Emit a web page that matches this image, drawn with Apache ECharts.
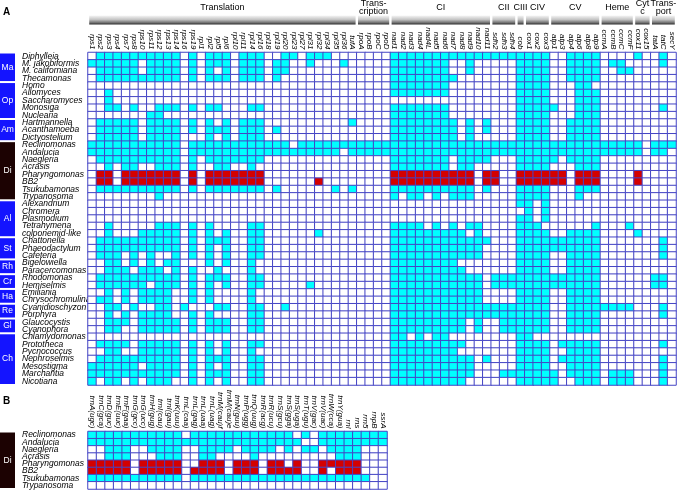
<!DOCTYPE html>
<html><head><meta charset="utf-8">
<script src="https://cdn.jsdelivr.net/npm/echarts@6/dist/echarts.min.js"></script>
<style>html,body{margin:0;padding:0;background:#fff}#c{width:677px;height:492px}</style>
</head><body><div id="c"></div><script>
// ---------- Panel A ----------
const genesA = ['rps1','rps2','rps3','rps4','rps7','rps8','rps10','rps11','rps12','rps13','rps14','rps16','rps19',
 'rpl1','rpl2','rpl5','rpl6','rpl10','rpl11','rpl14','rpl16','rpl18','rpl19','rpl20','rpl23','rpl27','rpl31','rpl32','rpl34','rpl35','rpl36','tufA',
 'rpoA','rpoB','rpoC','rpoD',
 'nad1','nad2','nad3','nad4','nad4L','nad5','nad6','nad7','nad8','nad9','nad10','nad11',
 'sdh2','sdh3','sdh4','cob','cox1','cox2','cox3','atp1','atp3','atp4','atp6','atp8','atp9',
 'ccmA','ccmB','ccmC','ccmF','cox11','cox15','tatA','tatC','secY'];
const headerLabels = ['Translation','Trans-\ncription','CI','CII','CIII','CIV','CV','Heme','Cyt\nc','Trans-\nport'];
const headerSpans = [32,4,12,3,1,3,6,4,2,3];
const speciesA = ['Diphylleia','M. jakobiformis','M. californiana','Thecamonas','Homo','Allomyces','Saccharomyces','Monosiga','Nuclearia',
 'Hartmannella','Acanthamoeba','Dictyostelium','Reclinomonas','Andalucia','Naegleria','Acrasis','Pharyngomonas','BB2','Tsukubamonas','Trypanosoma',
 'Alexandrium','Chromera','Plasmodium','Tetrahymena','colponemid-like','Chattonella','Phaeodactylum','Cafeteria','Bigelowiella','Paracercomonas',
 'Rhodomonas','Hemiselmis','Emiliania','Chrysochromulina','Cyanidioschyzon','Porphyra','Glaucocystis','Cyanophora','Chlamydomonas','Prototheca',
 'Pycnococcus','Nephroselmis','Mesostigma','Marchantia','Nicotiana'];
const groupLabelsA = ['Ma','Op','Am','Di','Al','St','Rh','Cr','Ha','Re','Gl','Ch'];
const groupSizesA = [4,5,3,8,5,3,2,2,2,2,2,7];
// gene column indices shown cyan (present) and red (present, highlighted lineage)
const cyanA = [
 '1-10,12,14-16,18-20,23-24,26-28,36-54,57-60,65,68',
 '0-5,7-10,12,14-16,18-20,22-23,26,30,36-42,45,51-54,57-60,62-63,68',
 '1-5,7-10,12,14,16,18-20,22-23,36-42,45,51-54,57-60,63-64',
 '1-10,12,14-16,18-20,22,36-43,51-54,57-60',
 '36-42,51-54,58-59',
 '2,36-42,51-54,58-60',
 '2,51-54,58-60',
 '2-3,5,8-10,12,14-15,19-20,36-42,51-55,58-60,68',
 '7-8,36-42,51-54,58-60',
 '1-5,7-10,12,14,16,18-20,31,36-43,45,47,51-54,57-60',
 '1-5,7-10,12,14-16,18-20,22,36-43,45,47,51-54,57-60',
 '1-5,7-10,14,16,18-20,36-43,45,51-54,57-60',
 '0-10,12-23,25-65,67-69',
 '0-10,12-29,31-65,67-68',
 '1-10,12,14-20,36-42,44-47,51-55,57-60',
 '2,4-5,8-10,12,15-16,19,36-42,44-45,51-54,58-60',
 '',
 '',
 '1-10,12,14-20,22,29,31,36-45,47,51-54,58-60',
 '8,36,38-39,41,43-45,51-54,58',
 '51-52,54',
 '52,54',
 '51-52,54',
 '2,8-10,12,14,19-20,36-39,41,43,45-46,51-53,60,64',
 '2,6-10,12,14,16,19-20,27,36-44,46,51-54,57-60,65',
 '1-10,12,14-16,19-20,36-47,51-60,68',
 '1-10,12,14,16,19-20,36-46,51-60,68',
 '1-3,5,7,10,12,14,16,19-20,36-46,51-54,57-60,68',
 '2-3,5,7,9-10,14,16,19,36-43,51-54,57-60',
 '2-4,6-8,10,12,15,19,36-44,51-54,57-60',
 '1-10,12,14-16,19-20,36-46,48-60,67-68',
 '1-6,8-10,12,14,16,19-20,26,36-46,48-60,67-68',
 '2,4,6-9,12,14,19,36-46,51-54,57-60',
 '1-2,4,6-9,12,14,19,36-46,51-54,57-60',
 '2-3,5,8-9,11,15-16,19-20,23,36-47,48-54,57-64,68',
 '2,4,6-9,12,14,19-20,36-47,48-54,57-60,68',
 '2-4,6-10,12,14-16,19-20,36-44,46,49-54,57-60',
 '2-3,6-10,12,14-16,19-20,36-44,46,49-54,57-60',
 '36-37,39,41-42,51-52',
 '1-4,6-10,12,14,16,19-20,36-44,51-54,56-60,68',
 '2-3,6-10,12,14,16,19,36-43,51-54,57-60',
 '1-10,12,14-16,19-20,36-45,47,51-54,56-60,68',
 '0-5,7-10,12,14,16,19-20,36-45,51-54,57-60,68',
 '0-10,12,14-16,19-20,36-45,49-55,57-60,62-64,68',
 '0,2-3,5,7-9,12,14,16,19-20,36-44,51-55,58-60,62-64,68'
];
const redA = speciesA.map(()=> '');
redA[16] = '1-2,4-10,12,14-20,36-45,47-48,51-56,58-60,65';
redA[17] = '1-2,4-10,12,14-20,27,36-45,47-48,51-56,58-60,65';

// ---------- Panel B ----------
const genesB = ['trnA(ugc)','trnC(gca)','trnD(guc)','trnE(uuc)','trnF(gaa)','trnG(gcc)','trnG(ucc)','trnH(gug)','trnI(cau)','trnI(gau)',
 'trnK(uuu)','trnL(caa)','trnL(gag)','trnL(uaa)','trnL(uag)','trnM(cau)f','trnM(cau)e','trnN(guu)','trnP(ugg)','trnQ(uug)',
 'trnR(acg)','trnR(ucu)','trnS(gcu)','trnS(gga)','trnS(uga)','trnT(ugu)','trnV(gac)','trnV(uac)','trnW(cca)','trnY(gua)',
 'rnl','rns','rrn5','rnpB','ssrA'];
const speciesB = ['Reclinomonas','Andalucia','Naegleria','Acrasis','Pharyngomonas','BB2','Tsukubamonas','Trypanosoma'];
const groupLabelsB = ['Di'];
const groupSizesB = [8];
const cyanB = ['0-10,12-23,25,27-34','0-24,27-34','2-4,7-10,13-16,18-21,23,25-26,28-31','2-4,8-10,13-14,19,29-31','','','0-10,12-32',''];
const redB = ['','','','','0-4,6-10,13-15,17-19,21-22,24,27-31','0-4,6-10,12-15,17-19,21-24,27,29-31','',''];

// ---------- helpers ----------
function parseRanges(s){const o=new Set(); if(!s) return o; s.split(',').forEach(p=>{const q=p.split('-').map(Number); const b=q.length>1?q[1]:q[0]; for(let i=q[0];i<=b;i++) o.add(i);}); return o;}
function cells(genes,species,cy,rd){const d=[]; species.forEach((sp,yi)=>{const c=parseRanges(cy[yi]),r=parseRanges(rd[yi]); genes.forEach((g,xi)=>{d.push([xi,yi,r.has(xi)?2:(c.has(xi)?1:0)]);});}); return d;}
function spans(sizes){const o=[]; let s=0; sizes.forEach((n,i)=>{o.push([s,s+n-1,i]); s+=n;}); return o;}

const FONT = '"Liberation Sans", Arial, sans-serif';
const gridLine = '#4444c4';
const chart = echarts.init(document.getElementById('c'), null, {renderer:'canvas', width:677, height:492});

function groupSeries(gridIdx, labels, sizes, darkIdx){
  return {type:'custom', xAxisIndex:gridIdx, yAxisIndex:gridIdx, clip:false, silent:true,
    data: spans(sizes),
    renderItem:(params, api)=>{
      const a=api.coord([0, api.value(0)]), b=api.coord([0, api.value(1)]);
      const bh=api.size([0,1])[1];
      const y0=a[1]-bh/2+1, y1=b[1]+bh/2-1;
      const i=api.value(2);
      const cs=params.coordSys;
      return {type:'group', children:[
        {type:'rect', shape:{x:cs.x, y:y0, width:cs.width, height:y1-y0}, style:{fill: darkIdx.includes(i)?'#1c0202':'#1414ff'}},
        {type:'text', style:{text:labels[i], x:cs.x+cs.width/2, y:(y0+y1)/2, align:'center', verticalAlign:'middle', font:'8.5px '+FONT, fill:'#fff'}}
      ]};
    }};
}

const hdr = spans(headerSpans);
const option = {
  animation:false,
  backgroundColor:'#fff',
  grid:[
    {left:88, top:52.5, width:588, height:332.5},
    {left:0, top:52.5, width:15, height:332.5},
    {left:88, top:431.5, width:299, height:57.5},
    {left:0, top:431.5, width:15, height:57.5}
  ],
  xAxis:[
    {type:'category', gridIndex:0, data:genesA, position:'top', axisLine:{show:false}, axisTick:{show:false}, splitLine:{show:false},
     axisLabel:{interval:0, rotate:90, margin:3, fontSize:8, fontStyle:'italic', fontFamily:FONT, color:'#000'}},
    {type:'category', gridIndex:1, data:['g'], show:false},
    {type:'category', gridIndex:2, data:genesB, position:'top', axisLine:{show:false}, axisTick:{show:false}, splitLine:{show:false},
     axisLabel:{interval:0, rotate:90, margin:3, fontSize:8, fontStyle:'italic', fontFamily:FONT, color:'#000'}},
    {type:'category', gridIndex:3, data:['g'], show:false}
  ],
  yAxis:[
    {type:'category', gridIndex:0, data:speciesA, inverse:true, axisLine:{show:false}, axisTick:{show:false}, splitLine:{show:false},
     axisLabel:{interval:0, align:'left', margin:66, fontSize:8.5, fontStyle:'italic', fontFamily:FONT, color:'#000'}},
    {type:'category', gridIndex:1, data:speciesA, inverse:true, show:false},
    {type:'category', gridIndex:2, data:speciesB, inverse:true, axisLine:{show:false}, axisTick:{show:false}, splitLine:{show:false},
     axisLabel:{interval:0, align:'left', margin:66, fontSize:8.5, fontStyle:'italic', fontFamily:FONT, color:'#000'}},
    {type:'category', gridIndex:3, data:speciesB, inverse:true, show:false}
  ],
  visualMap:{type:'piecewise', show:false, dimension:2, seriesIndex:[0,1],
    pieces:[{value:0,color:'#ffffff'},{value:1,color:'#00ffff'},{value:2,color:'#d40000'}]},
  graphic:[
    {type:'text', left:3, top:7, style:{text:'A', font:'bold 10px '+FONT, fill:'#000'}},
    {type:'text', left:3, top:396, style:{text:'B', font:'bold 10px '+FONT, fill:'#000'}}
  ],
  series:[
    {type:'heatmap', xAxisIndex:0, yAxisIndex:0, data:cells(genesA,speciesA,cyanA,redA), progressive:0,
     itemStyle:{borderColor:gridLine, borderWidth:1}, emphasis:{disabled:true}},
    {type:'heatmap', xAxisIndex:2, yAxisIndex:2, data:cells(genesB,speciesB,cyanB,redB), progressive:0,
     itemStyle:{borderColor:gridLine, borderWidth:1}, emphasis:{disabled:true}},
    groupSeries(1, groupLabelsA, groupSizesA, [3]),
    groupSeries(3, groupLabelsB, groupSizesB, [0]),
    {type:'custom', xAxisIndex:0, yAxisIndex:0, clip:false, silent:true, data:hdr,
     renderItem:(params, api)=>{
       const bw=api.size([1,0])[0];
       const x0=api.coord([api.value(0),0])[0]-bw/2+1.2, x1=api.coord([api.value(1),0])[0]+bw/2-1.2;
       const lab=headerLabels[api.value(2)];
       return {type:'group', children:[
         {type:'rect', shape:{x:x0, y:15.5, width:x1-x0, height:9}, style:{fill:new echarts.graphic.LinearGradient(0,0,0,1,[
            {offset:0,color:'#f6f6f6'},{offset:0.45,color:'#c4c4c4'},{offset:0.8,color:'#707070'},{offset:1,color:'#2a2a2a'}])}},
         {type:'text', style:{text:lab, x:(x0+x1)/2, y:8, align:'center', verticalAlign:'middle', font:'9px '+FONT, fill:'#000', lineHeight:8}}
       ]};
     }}
  ]
};
chart.setOption(option);
</script></body></html>
